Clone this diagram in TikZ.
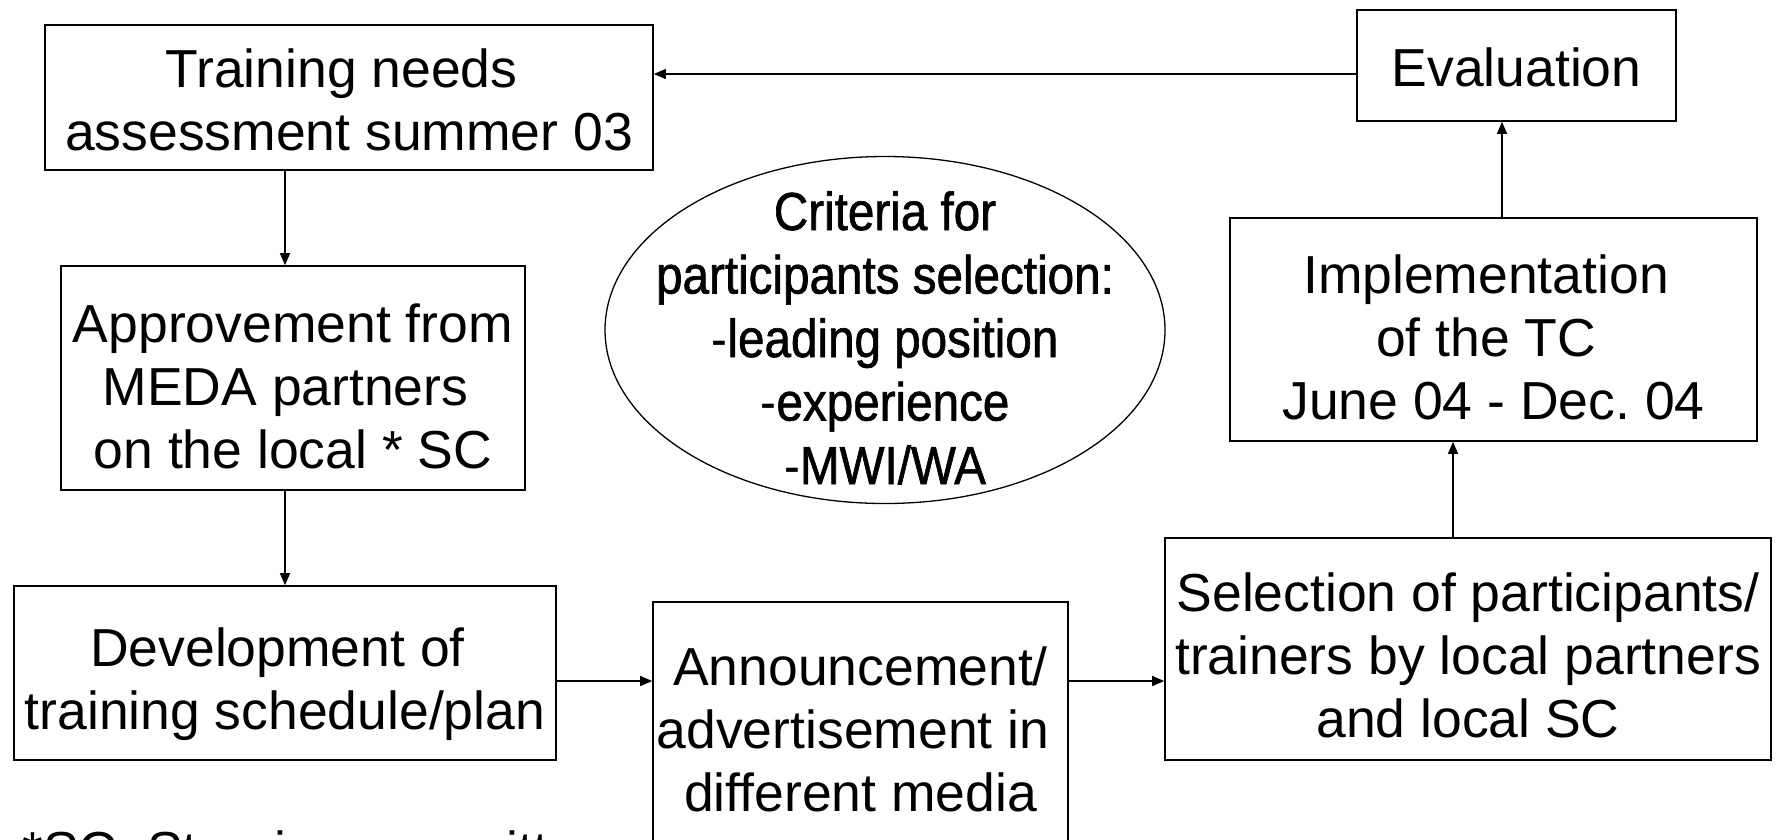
\documentclass[tikz,border=0pt]{standalone}
\usepackage{fontspec}
\setmainfont{Liberation Sans}
\newfontfamily\narrowfont[FakeStretch=0.89,FakeBold=1.2]{Liberation Sans}
\newfontfamily\narrowlight[FakeStretch=0.89]{Liberation Sans}
\usetikzlibrary{shapes.geometric,arrows.meta}
\frenchspacing
\newcommand{\boxtext}[2]{\makebox[0pt]{\raisebox{#1}[0pt][0pt]{\parbox[b]{700pt}{\centering\frenchspacing #2}}}}
\newcommand{\dsh}{{\narrowlight -}}
\newcommand{\ts}{\rule{15pt}{0pt}}
\begin{document}
\begin{tikzpicture}[x=1pt,y=-1pt,
  box/.style={draw,line width=1.6pt,rectangle,inner sep=0pt,
    font=\fontsize{53.5}{63}\selectfont},
  arr/.style={line width=1.3pt,-{Triangle[length=12pt,width=10pt]}}]
\useasboundingbox (0,0) rectangle (1777,839);
\clip (0,0) rectangle (1777,839);
\node[box,minimum width=608pt,minimum height=145pt] (train) at (349,97.5)
  {\boxtext{-53pt}{Training needs\ts\\assessment summer 03}};
\node[box,minimum width=319pt,minimum height=111pt] (eval) at (1516.5,65.5)
  {\boxtext{-20.5pt}{Evaluation}};
\node[box,minimum width=464pt,minimum height=224pt] (appr) at (293,378)
  {\boxtext{-90pt}{Approvement from\\MEDA partners\ts\\on the local * SC}};
\node[draw,line width=1.3pt,ellipse,minimum width=560pt,minimum height=347pt,inner sep=0pt,
  font=\narrowfont\fontsize{53.5}{63.5}\selectfont] (crit) at (885,330)
  {\boxtext{-154pt}{Criteria for\\participants selection:\\\dsh leading position\\\dsh experience\\\dsh MWI/WA}};
\node[box,minimum width=527pt,minimum height=223pt] (impl) at (1493.5,329.5)
  {\boxtext{-90pt}{Implementation\ts\\of the TC\ts\\June 04 - Dec. 04}};
\node[box,minimum width=542pt,minimum height=174pt] (dev) at (285,673)
  {\boxtext{-56pt}{Development of\ts\\training schedule/plan}};
\node[box,minimum width=415pt,minimum height=252pt] (ann) at (860.5,728)
  {\boxtext{-83.5pt}{Announcement/\\advertisement in\ts\\different media}};
\node[box,minimum width=606pt,minimum height=222pt] (sel) at (1468,649)
  {\boxtext{-88pt}{Selection of participants/\\trainers by local partners\\and local SC}};
\node[anchor=base west,inner sep=0pt,font=\fontsize{53.5}{63}\selectfont] (note) at (22,869) {*SC: Steering committee};
\draw[arr] (eval.west |- 0,74) -- (train.east |- 0,74);
\draw[arr] (train.south -| 285,0) -- (appr.north -| 285,0);
\draw[arr] (appr.south -| 285,0) -- (dev.north -| 285,0);
\draw[arr] (dev.east |- 0,681) -- (ann.west |- 0,681);
\draw[arr] (ann.east |- 0,681) -- (sel.west |- 0,681);
\draw[arr] (sel.north -| 1453,0) -- (impl.south -| 1453,0);
\draw[arr] (impl.north -| 1502,0) -- (eval.south -| 1502,0);
\end{tikzpicture}
\end{document}
